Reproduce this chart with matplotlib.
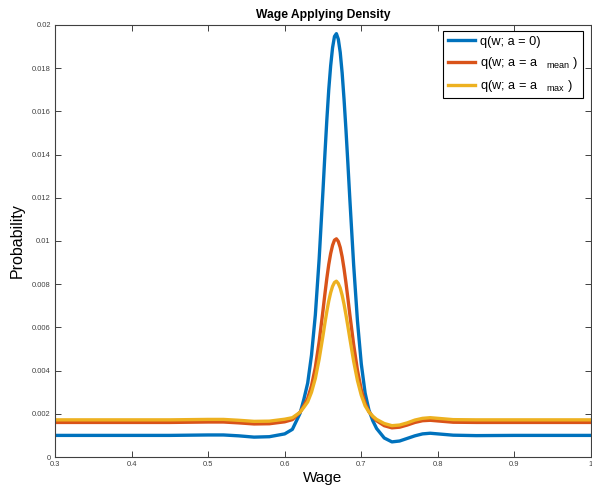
import numpy as np
import matplotlib
matplotlib.use("Agg")
import matplotlib.pyplot as plt
from matplotlib.ticker import FuncFormatter

plt.rcParams['font.family'] = ['Liberation Sans', 'DejaVu Sans']
plt.rcParams['mathtext.fontset'] = 'custom'
plt.rcParams['mathtext.rm'] = 'Liberation Sans'
plt.rcParams['mathtext.it'] = 'Liberation Sans'

# wage grid (denser around the peak)
wage = [0.30, 0.35, 0.40, 0.45, 0.50, 0.52, 0.54, 0.56, 0.58, 0.60,
        0.61, 0.62, 0.625, 0.63, 0.635, 0.64, 0.645, 0.65, 0.6525, 0.655,
        0.6575, 0.66, 0.6625, 0.665, 0.6675, 0.67, 0.6725, 0.675, 0.6775, 0.68,
        0.6825, 0.685, 0.69, 0.695, 0.70, 0.705, 0.71, 0.715, 0.72, 0.73,
        0.74, 0.75, 0.76, 0.77, 0.78, 0.79, 0.80, 0.82, 0.85, 0.90,
        0.95, 1.00]

# q(w; a = 0)
q_zero = [0.00100, 0.00100, 0.00100, 0.00100, 0.00102, 0.00102, 0.00098, 0.00092, 0.00094, 0.00107,
          0.00128, 0.00202, 0.00267, 0.00342, 0.00472, 0.00658, 0.00918, 0.01235, 0.01402, 0.01560,
          0.01700, 0.01811, 0.01895, 0.01947, 0.01960, 0.01934, 0.01873, 0.01778, 0.01655, 0.01514,
          0.01359, 0.01197, 0.00891, 0.00630, 0.00431, 0.00296, 0.00217, 0.00168, 0.00132, 0.00088,
          0.00070, 0.00074, 0.00086, 0.00098, 0.00107, 0.00110, 0.00107, 0.00101, 0.00099, 0.00100,
          0.00100, 0.00100]

# q(w; a = a_mean)
q_mean = [0.00160, 0.00160, 0.00160, 0.00160, 0.00162, 0.00162, 0.00158, 0.00153, 0.00154, 0.00163,
          0.00173, 0.00207, 0.00237, 0.00271, 0.00330, 0.00415, 0.00534, 0.00679, 0.00755, 0.00827,
          0.00891, 0.00942, 0.00980, 0.01004, 0.01010, 0.00998, 0.00970, 0.00927, 0.00871, 0.00806,
          0.00735, 0.00661, 0.00521, 0.00402, 0.00311, 0.00248, 0.00210, 0.00186, 0.00168, 0.00145,
          0.00135, 0.00138, 0.00148, 0.00160, 0.00168, 0.00170, 0.00167, 0.00161, 0.00160, 0.00160,
          0.00160, 0.00160]

# q(w; a = a_max)
q_max = [0.00172, 0.00172, 0.00172, 0.00172, 0.00174, 0.00174, 0.00170, 0.00165, 0.00166, 0.00175,
         0.00182, 0.00207, 0.00230, 0.00255, 0.00300, 0.00364, 0.00454, 0.00562, 0.00620, 0.00674,
         0.00722, 0.00761, 0.00790, 0.00808, 0.00814, 0.00803, 0.00782, 0.00749, 0.00707, 0.00658,
         0.00605, 0.00550, 0.00444, 0.00354, 0.00286, 0.00237, 0.00208, 0.00189, 0.00174, 0.00155,
         0.00145, 0.00148, 0.00158, 0.00171, 0.00179, 0.00182, 0.00179, 0.00173, 0.00172, 0.00172,
         0.00172, 0.00172]

labels = [r'q(w; a = 0)',
          r'q(w; a = a$_{\mathregular{\quad\ mean}}$ )',
          r'q(w; a = a$_{\mathregular{\quad\ max}}$ )']
colors = ['#0072BD', '#D95319', '#EDB120']

fig = plt.figure(figsize=(5.92, 4.87), dpi=100)
ax = fig.add_axes([55/592, 1-457/487, 536/592, 432/487])

for ys, lab, c in zip([q_zero, q_mean, q_max], labels, colors):
    ax.plot(wage, ys, color=c, lw=2.4, label=lab)

ax.set_xlim(0.3, 1.0)
ax.set_ylim(0, 0.02)
ax.set_xticks(np.arange(0.3, 1.01, 0.1))
ax.set_yticks(np.arange(0, 0.0201, 0.002))
ax.xaxis.set_major_formatter(FuncFormatter(lambda v, p: '%g' % round(v, 4)))
ax.yaxis.set_major_formatter(FuncFormatter(lambda v, p: '%g' % round(v, 5)))

ax.tick_params(direction='in', length=4, width=0.7, colors='#404040',
               labelsize=5.4, top=True, right=True, pad=3)
for s in ax.spines.values():
    s.set_color('#404040')
    s.set_linewidth(0.8)

ax.set_title('Wage Applying Density', fontsize=8.7, fontweight='bold', pad=5)
ax.set_xlabel('Wage', fontsize=11, labelpad=2)
ax.set_ylabel('Probability', fontsize=11.5, labelpad=5)

leg = ax.legend(loc='upper right', bbox_to_anchor=(0.985, 0.985), fontsize=9.2,
                frameon=True, fancybox=False, framealpha=1, edgecolor='black',
                handlelength=2.1, handletextpad=0.45, borderpad=0.35, labelspacing=0.55,
                borderaxespad=0)
leg.get_frame().set_linewidth(0.8)

fig.savefig('out.png', dpi=100)
